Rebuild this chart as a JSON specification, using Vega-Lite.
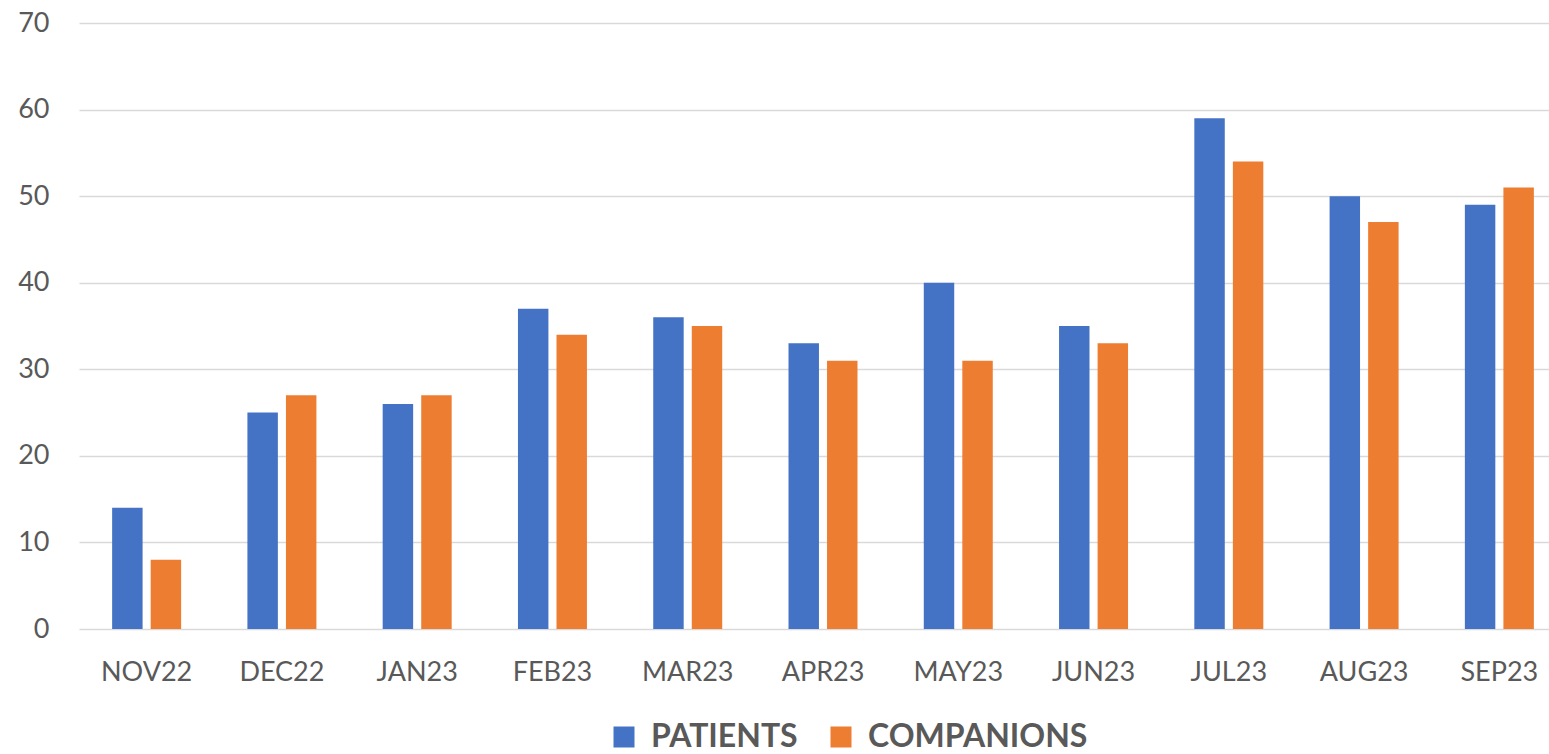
{
  "$schema": "https://vega.github.io/schema/vega-lite/v6.json",
  "autosize": "none",
  "width": 1470,
  "height": 606,
  "padding": {"left": 79, "top": 23, "right": 0, "bottom": 125},
  "background": "white",
  "config": {
    "view": {"stroke": null},
    "font": "Lato"
  },
  "data": {
    "values": [
      {"month": "NOV22", "series": "PATIENTS", "value": 14},
      {"month": "NOV22", "series": "COMPANIONS", "value": 8},
      {"month": "DEC22", "series": "PATIENTS", "value": 25},
      {"month": "DEC22", "series": "COMPANIONS", "value": 27},
      {"month": "JAN23", "series": "PATIENTS", "value": 26},
      {"month": "JAN23", "series": "COMPANIONS", "value": 27},
      {"month": "FEB23", "series": "PATIENTS", "value": 37},
      {"month": "FEB23", "series": "COMPANIONS", "value": 34},
      {"month": "MAR23", "series": "PATIENTS", "value": 36},
      {"month": "MAR23", "series": "COMPANIONS", "value": 35},
      {"month": "APR23", "series": "PATIENTS", "value": 33},
      {"month": "APR23", "series": "COMPANIONS", "value": 31},
      {"month": "MAY23", "series": "PATIENTS", "value": 40},
      {"month": "MAY23", "series": "COMPANIONS", "value": 31},
      {"month": "JUN23", "series": "PATIENTS", "value": 35},
      {"month": "JUN23", "series": "COMPANIONS", "value": 33},
      {"month": "JUL23", "series": "PATIENTS", "value": 59},
      {"month": "JUL23", "series": "COMPANIONS", "value": 54},
      {"month": "AUG23", "series": "PATIENTS", "value": 50},
      {"month": "AUG23", "series": "COMPANIONS", "value": 47},
      {"month": "SEP23", "series": "PATIENTS", "value": 49},
      {"month": "SEP23", "series": "COMPANIONS", "value": 51}
    ]
  },
  "mark": {"type": "bar"},
  "encoding": {
    "x": {
      "field": "month",
      "type": "nominal",
      "sort": null,
      "scale": {"range": [0, 1488], "paddingInner": 0.49, "paddingOuter": 0.245},
      "axis": {
        "title": null,
        "labelAngle": 0,
        "domain": false,
        "ticks": false,
        "labelPadding": 30,
        "labelFontSize": 27,
        "labelColor": "#595959",
        "labelFont": "Lato"
      }
    },
    "xOffset": {
      "field": "series",
      "type": "nominal",
      "sort": ["PATIENTS", "COMPANIONS"],
      "scale": {"paddingInner": 0.21, "paddingOuter": 0}
    },
    "y": {
      "field": "value",
      "type": "quantitative",
      "scale": {"domain": [0, 70], "nice": false},
      "axis": {
        "title": null,
        "values": [0, 10, 20, 30, 40, 50, 60, 70],
        "domain": false,
        "ticks": false,
        "labelPadding": 30,
        "labelFontSize": 27,
        "labelColor": "#595959",
        "labelFont": "Lato",
        "gridColor": "#d9d9d9",
        "gridWidth": 1.5
      }
    },
    "color": {
      "field": "series",
      "type": "nominal",
      "sort": ["PATIENTS", "COMPANIONS"],
      "scale": {"domain": ["PATIENTS", "COMPANIONS"], "range": ["#4472C4", "#ED7D31"]},
      "legend": {
        "title": null,
        "orient": "none",
        "direction": "horizontal",
        "legendX": 529,
        "legendY": 698,
        "symbolType": "square",
        "symbolSize": 441,
        "symbolStrokeWidth": 0,
        "labelFontSize": 32,
        "labelFontWeight": "bold",
        "labelColor": "#595959",
        "labelFont": "Lato",
        "labelLimit": 400,
        "columnPadding": 27,
        "labelOffset": 11
      }
    }
  }
}
